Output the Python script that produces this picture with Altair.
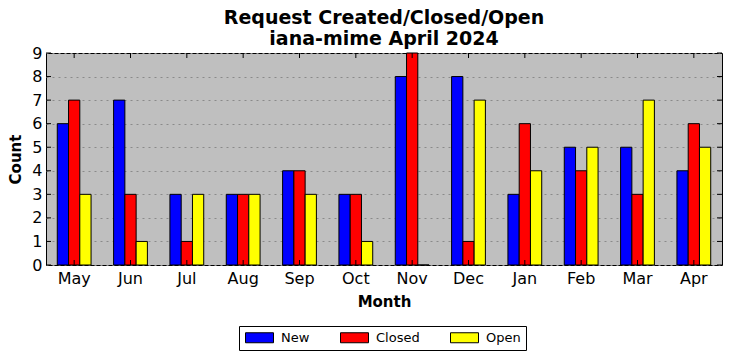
import altair as alt
import pandas as pd

months = ["May", "Jun", "Jul", "Aug", "Sep", "Oct", "Nov", "Dec", "Jan", "Feb", "Mar", "Apr"]
new_vals = [6, 7, 3, 3, 4, 3, 8, 8, 3, 5, 5, 4]
closed_vals = [7, 3, 1, 3, 4, 3, 9, 1, 6, 4, 3, 6]
open_vals = [3, 1, 3, 3, 3, 1, 0, 7, 4, 5, 7, 5]
series = ["New", "Closed", "Open"]
colors = ["#0000ff", "#ff0000", "#ffff00"]
y_ticks = [0, 1, 2, 3, 4, 5, 6, 7, 8, 9]

rows = []
for i, m in enumerate(months):
    for s, vals in zip(series, [new_vals, closed_vals, open_vals]):
        rows.append({"Month": m, "Series": s, "Count": vals[i]})
df = pd.DataFrame(rows)
df_ticks = pd.DataFrame({"Count": y_ticks})
df_months = pd.DataFrame({"Month": months})

W, H = 676, 212
FONT = "DejaVu Sans"

xscale = alt.Scale(domain=months, paddingInner=0.4, paddingOuter=0.2)
yscale = alt.Scale(domain=[0, 9], nice=False)

x_axis = alt.Axis(labelAngle=0, domain=False, ticks=False, labelFont=FONT,
                  labelFontSize=16, labelColor="black", labelPadding=5,
                  title="Month", titleFont=FONT, titleFontSize=15,
                  titleFontWeight="bold", titleColor="black", titlePadding=8)
y_axis = alt.Axis(values=y_ticks, grid=True, gridColor="#8a8a8a", gridDash=[2, 4],
                  gridWidth=1, domain=False, ticks=False, labelFont=FONT,
                  labelFontSize=16, labelColor="black", labelPadding=4,
                  labelOverlap=False, labelBaseline="middle",
                  title="Count", titleFont=FONT, titleFontSize=15,
                  titleFontWeight="bold", titleColor="black", titlePadding=8)

bars = alt.Chart(df).mark_bar(stroke="black", strokeWidth=1).encode(
    x=alt.X("Month:N", sort=months, scale=xscale, axis=x_axis),
    xOffset=alt.XOffset("Series:N", sort=series, scale=alt.Scale(domain=series, paddingInner=0, paddingOuter=0)),
    y=alt.Y("Count:Q", scale=yscale, axis=y_axis),
    color=alt.Color("Series:N", sort=series,
                    scale=alt.Scale(domain=series, range=colors),
                    legend=alt.Legend(title=None, orient="none", direction="horizontal",
                                      columns=3, legendX=193, legendY=273,
                                      symbolType="M-1,-1L4.6,-1L4.6,1L-1,1Z",
                                      symbolSize=100, symbolStrokeColor="black",
                                      symbolStrokeWidth=1, symbolOpacity=1,
                                      labelFont=FONT, labelFontSize=13, labelColor="black",
                                      labelOffset=24, columnPadding=28, padding=5,
                                      strokeColor="black", fillColor="white")),
)

left_ticks = alt.Chart(df_ticks).mark_rule(color="black").encode(
    y=alt.Y("Count:Q", scale=yscale, axis=y_axis), x=alt.value(0), x2=alt.value(5))
right_ticks = alt.Chart(df_ticks).mark_rule(color="black").encode(
    y=alt.Y("Count:Q", scale=yscale, axis=y_axis), x=alt.value(W - 5), x2=alt.value(W))
top_ticks = alt.Chart(df_months).mark_rule(color="black").encode(
    x=alt.X("Month:N", sort=months, scale=xscale, bandPosition=0.5, axis=x_axis),
    y=alt.value(0), y2=alt.value(5))
bottom_ticks = alt.Chart(df_months).mark_rule(color="black").encode(
    x=alt.X("Month:N", sort=months, scale=xscale, bandPosition=0.5, axis=x_axis),
    y=alt.value(H - 5), y2=alt.value(H))

chart = alt.layer(bars, left_ticks, right_ticks, top_ticks, bottom_ticks).properties(
    width=W, height=H,
    title=alt.TitleParams(text=["Request Created/Closed/Open", "iana-mime April 2024"],
                          font=FONT, fontSize=19, fontWeight="bold", color="black",
                          anchor="middle", offset=-4, lineHeight=21),
    autosize=alt.AutoSizeParams(type="none"),
    padding={"left": 38, "top": 45, "right": 2, "bottom": 90},
).configure(background="white").configure_view(fill="#bfbfbf", stroke="black", strokeWidth=1)

chart.save("out.html", embed_options={"renderer": "svg", "actions": False})
